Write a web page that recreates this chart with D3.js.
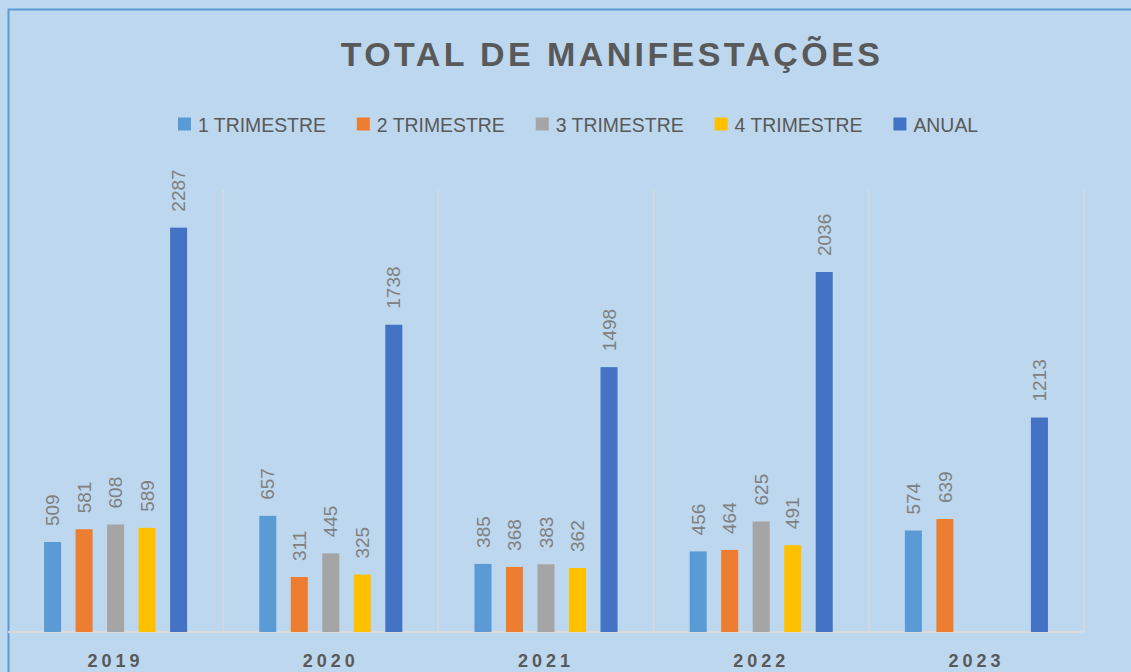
<!DOCTYPE html>
<meta charset="utf-8">
<style>
    body { margin: 0; background: #BDD7EE; }
    svg { display: block; font-family: "Liberation Sans", Arial, sans-serif; }
    .grid line { stroke: #D9D9D9; stroke-width: 1.5; }
    .label { fill: #808080; font-size: 19px; }
    .cat { fill: #595959; font-size: 18px; font-weight: bold; letter-spacing: 4px; }
    .legend text { fill: #595959; font-size: 19.4px; }
</style>
<svg width="1131" height="672"></svg>
<script src="https://d3js.org/d3.v7.min.js"></script>
<script>

    var years = ["2019", "2020", "2021", "2022", "2023"];
    var seriesNames = ["1 TRIMESTRE", "2 TRIMESTRE", "3 TRIMESTRE", "4 TRIMESTRE", "ANUAL"];
    var colors = ["#5B9BD5", "#ED7D31", "#A5A5A5", "#FFC000", "#4472C4"];

    var tri1 = [509, 657, 385, 456, 574];
    var tri2 = [581, 311, 368, 464, 639];
    var tri3 = [608, 445, 383, 625, null];
    var tri4 = [589, 325, 362, 491, null];
    var anual = [2287, 1738, 1498, 2036, 1213];

    var seriesValues = [tri1, tri2, tri3, tri4, anual];

    var svg = d3.select("svg"),
        plot = { left: 8, right: 1084, top: 190, bottom: 632 };

    // frame
    svg.append("rect")
        .attr("x", 8.5)
        .attr("y", 9.5)
        .attr("width", 1200)
        .attr("height", 700)
        .attr("fill", "#BDD7EE")
        .attr("stroke", "#5B9BD5")
        .attr("stroke-width", 2);

    var x0 = d3.scaleBand()
        .domain(years)
        .range([plot.left, plot.right])
        .padding(0);

    var x1 = d3.scaleBand()
        .domain(seriesNames)
        .range([0, x0.bandwidth()])
        .paddingInner(0.46)
        .paddingOuter(1.145);

    var y = d3.scaleLinear()
        .domain([0, 2500])
        .range([plot.bottom, plot.top]);

    // vertical category separators
    var grid = svg.append("g").attr("class", "grid");
    grid.selectAll("line")
        .data(years.slice(1).concat(["end"]))
        .enter().append("line")
        .attr("x1", function (d, i) { return x0(years[0]) + (i + 1) * x0.step(); })
        .attr("x2", function (d, i) { return x0(years[0]) + (i + 1) * x0.step(); })
        .attr("y1", plot.top)
        .attr("y2", plot.bottom);

    // baseline
    svg.append("line")
        .attr("x1", plot.left)
        .attr("x2", plot.right)
        .attr("y1", y(0))
        .attr("y2", y(0))
        .attr("stroke", "#D9D9D9")
        .attr("stroke-width", 2);

    var rows = [];
    years.forEach(function (yr, i) {
        seriesNames.forEach(function (s, j) {
            var v = seriesValues[j][i];
            if (v != null) rows.push({ year: yr, series: s, color: colors[j], value: v });
        });
    });

    svg.selectAll(".bar")
        .data(rows)
        .enter().append("rect")
        .attr("class", "bar")
        .attr("x", function (d) { return x0(d.year) + x1(d.series); })
        .attr("y", function (d) { return y(d.value); })
        .attr("width", x1.bandwidth())
        .attr("height", function (d) { return y(0) - y(d.value); })
        .attr("fill", function (d) { return d.color; });

    svg.selectAll(".label")
        .data(rows)
        .enter().append("text")
        .attr("class", "label")
        .attr("transform", function (d) {
            var cx = x0(d.year) + x1(d.series) + x1.bandwidth() / 2;
            return "translate(" + cx + "," + (y(d.value) - 16) + ") rotate(-90)";
        })
        .attr("dy", "0.35em")
        .text(function (d) { return d.value; });

    // category labels
    svg.selectAll(".cat")
        .data(years)
        .enter().append("text")
        .attr("class", "cat")
        .attr("x", function (d) { return x0(d) + x0.bandwidth() / 2; })
        .attr("y", 667)
        .attr("text-anchor", "middle")
        .text(function (d) { return d; });

    // title
    svg.append("text")
        .attr("x", 612)
        .attr("y", 66)
        .attr("text-anchor", "middle")
        .attr("fill", "#595959")
        .style("font-size", "34px")
        .style("font-weight", "bold")
        .style("letter-spacing", "3.4px")
        .text("TOTAL DE MANIFESTAÇÕES");

    // legend
    var legend = svg.append("g").attr("class", "legend");
    var lx = 178;
    seriesNames.forEach(function (s, j) {
        legend.append("rect")
            .attr("x", lx)
            .attr("y", 117.5)
            .attr("width", 13)
            .attr("height", 13)
            .attr("fill", colors[j]);
        var t = legend.append("text")
            .attr("x", lx + 20)
            .attr("y", 131.5)
            .text(s);
        lx += 20 + t.node().getComputedTextLength() + 31;
    });

</script>
